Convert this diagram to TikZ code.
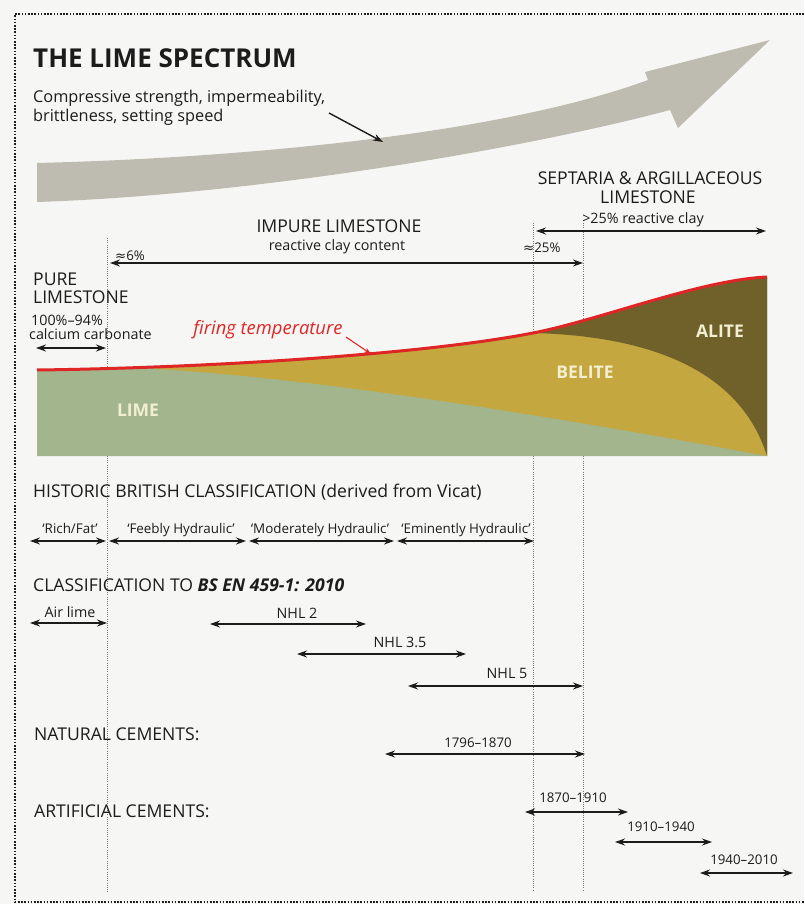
\documentclass[tikz,border=0pt]{standalone}
\usepackage{fontspec}
\setmainfont{Open Sans}
\newfontfamily\symfont{DejaVu Sans}
\usetikzlibrary{arrows.meta}
\definecolor{bgc}{RGB}{246,246,244}
\definecolor{ink}{RGB}{28,28,28}
\definecolor{greyarrow}{RGB}{190,187,176}
\definecolor{limec}{RGB}{163,181,140}
\definecolor{belitec}{RGB}{196,167,62}
\definecolor{alitec}{RGB}{112,97,42}
\definecolor{firered}{RGB}{222,38,38}
\definecolor{guidegrey}{RGB}{120,120,120}
\definecolor{chartlabel}{RGB}{242,238,210}
\begin{document}
\begin{tikzpicture}[x=1pt,y=-1pt,
  txt/.style={inner sep=0pt,text=ink},
  ttl/.style={txt,font=\fontsize{26}{30}\selectfont\bfseries},
  subt/.style={txt,font=\fontsize{16.3}{20}\selectfont},
  hd/.style={txt,font=\fontsize{17.6}{21}\selectfont},
  lbl/.style={txt,font=\fontsize{14.3}{17}\selectfont},
  hist/.style={txt,font=\fontsize{13.4}{17}\selectfont},
  yr/.style={txt,font=\fontsize{13.3}{17}\selectfont},
  chartlbl/.style={inner sep=0pt,text=chartlabel,font=\fontsize{17.5}{20}\selectfont\bfseries},
  dimarrow/.style={line width=1.5pt,draw=ink,{Stealth[length=10pt,width=7pt]}-{Stealth[length=10pt,width=7pt]}},
  guideline/.style={draw=guidegrey,line width=0.8pt,dash pattern=on 1pt off 1.2pt},
  framedots/.style={draw=ink,line width=1.6pt,dash pattern=on 1.6pt off 1.6pt}
]
\useasboundingbox (0,0) rectangle (804,904);
\fill[bgc] (0,0) rectangle (804,904);

% frame
\draw[framedots] (804,14) -- (15,14) -- (15,902) -- (804,902);

% guide lines
\draw[guideline] (107,238) -- (107,893);
\draw[guideline] (533,223) -- (533,890);
\draw[guideline] (583,223) -- (583,890);

% big grey arrow
\fill[greyarrow] (37,163) .. controls (237,158) and (498,135) .. (648,80) -- (645,72) -- (770,40) -- (678,128) -- (670,110) .. controls (520,150) and (250,195) .. (37,202) -- cycle;

% title
\node[ttl,anchor=base west] (title) at (33,68) {THE LIME SPECTRUM};
\node[subt,anchor=base west] (sub1) at (33,103) {Compressive strength, impermeability,};
\node[subt,anchor=base west] (sub2) at (33,122) {brittleness, setting speed};
\coordinate (subarr-a) at (329,113);
\coordinate (subarr-b) at (383,142);
\draw[ink,line width=1.4pt,-{Stealth[length=10pt,width=7pt]}] (subarr-a) -- (subarr-b);

% limestone labels
\node[hd,anchor=base] (impure) at (339,232) {IMPURE LIMESTONE};
\node[lbl,anchor=base] (clay) at (337,250) {reactive clay content};
\node[yr,anchor=base west] (six) at (115,260) {{\symfont ≈}6\%};
\node[yr,anchor=base west] (twentyfive) at (523,252) {{\symfont ≈}25\%};
\coordinate (imp-l) at (110,263);
\coordinate (imp-r) at (583,263);
\draw[dimarrow] (imp-l) -- (imp-r);

\node[hd,anchor=base] (septaria) at (650,185) {SEPTARIA \& ARGILLACEOUS};
\node[hd,anchor=base] (septlime) at (648,203) {LIMESTONE};
\node[lbl,anchor=base] (gt25) at (643,223) {>25\% reactive clay};
\coordinate (sep-l) at (536,231);
\coordinate (sep-r) at (766,231);
\draw[dimarrow] (sep-l) -- (sep-r);

\node[hd,anchor=base west] (pure) at (33,285) {PURE};
\node[hd,anchor=base west] (purelime) at (33,303) {LIMESTONE};
\node[lbl,anchor=base west] (hundred) at (31,325) {100\%–94\%};
\node[lbl,anchor=base west] (calcium) at (29,339) {calcium carbonate};
\coordinate (pure-l) at (36,348);
\coordinate (pure-r) at (106,348);
\draw[dimarrow] (pure-l) -- (pure-r);

% chart
\begin{scope}
\clip (37,370) .. controls (200,368) and (420,355) .. (533,333) .. controls (600,320) and (700,280) .. (767,277) -- (767,456) -- (37,456) -- cycle;
\fill[limec] (0,250) rectangle (800,470);
\fill[belitec] (155,369) .. controls (300,377) and (520,410) .. (767,456) -- (800,456) -- (800,250) -- (155,250) -- cycle;
\fill[alitec] (533,333) .. controls (650,336) and (740,370) .. (767,456) -- (800,456) -- (800,250) -- (533,250) -- cycle;
\end{scope}
\draw[firered,line width=3pt] (37,370) .. controls (200,368) and (420,355) .. (533,333) .. controls (600,320) and (700,280) .. (767,277);
\node[anchor=base,inner sep=0pt,text=firered,font=\fontsize{18.4}{22}\selectfont\itshape] (firing) at (268,334) {firing temperature};
\coordinate (fire-a) at (346,337);
\coordinate (fire-b) at (371,354);
\draw[firered,line width=1.1pt,-{Stealth[length=7pt,width=5pt]}] (fire-a) -- (fire-b);
\node[chartlbl,anchor=base] (lime) at (138,416) {LIME};
\node[chartlbl,anchor=base] (belite) at (585,378) {BELITE};
\node[chartlbl,anchor=base] (alite) at (720,337) {ALITE};

% historic classification
\node[hd,anchor=base west] (historic) at (33,497) {HISTORIC BRITISH CLASSIFICATION (derived from Vicat)};
\node[hist,anchor=base] (rich) at (70,533) {‘Rich/Fat’};
\node[hist,anchor=base] (feebly) at (181,533) {‘Feebly Hydraulic’};
\node[hist,anchor=base] (moder) at (320,533) {‘Moderately Hydraulic’};
\node[hist,anchor=base] (emin) at (466,533) {‘Eminently Hydraulic’};
\coordinate (rich-l) at (30,541);  \coordinate (rich-r) at (106,541);
\coordinate (feeb-l) at (109,541); \coordinate (feeb-r) at (246,541);
\coordinate (mod-l) at (249,541);  \coordinate (mod-r) at (394,541);
\coordinate (emi-l) at (397,541);  \coordinate (emi-r) at (534,541);
\draw[dimarrow] (rich-l) -- (rich-r);
\draw[dimarrow] (feeb-l) -- (feeb-r);
\draw[dimarrow] (mod-l) -- (mod-r);
\draw[dimarrow] (emi-l) -- (emi-r);

% BS EN classification
\node[hd,anchor=base west] (bsen) at (33,591) {CLASSIFICATION TO \textbf{\textit{BS EN 459-1: 2010}}};
\node[lbl,anchor=base] (airlime) at (70,617) {Air lime};
\node[lbl,anchor=base] (nhl2) at (297,618) {NHL 2};
\node[lbl,anchor=base] (nhl35) at (400,647) {NHL 3.5};
\node[lbl,anchor=base] (nhl5) at (507,678) {NHL 5};
\coordinate (air-l) at (30,623);  \coordinate (air-r) at (107,623);
\coordinate (n2-l) at (210,624);  \coordinate (n2-r) at (366,624);
\coordinate (n35-l) at (297,654); \coordinate (n35-r) at (466,654);
\coordinate (n5-l) at (408,686);  \coordinate (n5-r) at (583,686);
\draw[dimarrow] (air-l) -- (air-r);
\draw[dimarrow] (n2-l) -- (n2-r);
\draw[dimarrow] (n35-l) -- (n35-r);
\draw[dimarrow] (n5-l) -- (n5-r);

% cements
\node[hd,anchor=base west] (natural) at (34,740) {NATURAL CEMENTS:};
\node[yr,anchor=base] (y1796) at (478,747) {1796–1870};
\coordinate (nat-l) at (385,754); \coordinate (nat-r) at (585,754);
\draw[dimarrow] (nat-l) -- (nat-r);

\node[hd,anchor=base west] (artificial) at (34,817) {ARTIFICIAL CEMENTS:};
\node[yr,anchor=base] (y1870) at (573,802) {1870–1910};
\node[yr,anchor=base] (y1910) at (661,831) {1910–1940};
\node[yr,anchor=base] (y1940) at (744,864) {1940–2010};
\coordinate (a1-l) at (525,812); \coordinate (a1-r) at (628,812);
\coordinate (a2-l) at (615,842); \coordinate (a2-r) at (712,842);
\coordinate (a3-l) at (700,873); \coordinate (a3-r) at (793,873);
\draw[dimarrow] (a1-l) -- (a1-r);
\draw[dimarrow] (a2-l) -- (a2-r);
\draw[dimarrow] (a3-l) -- (a3-r);
\end{tikzpicture}
\end{document}
